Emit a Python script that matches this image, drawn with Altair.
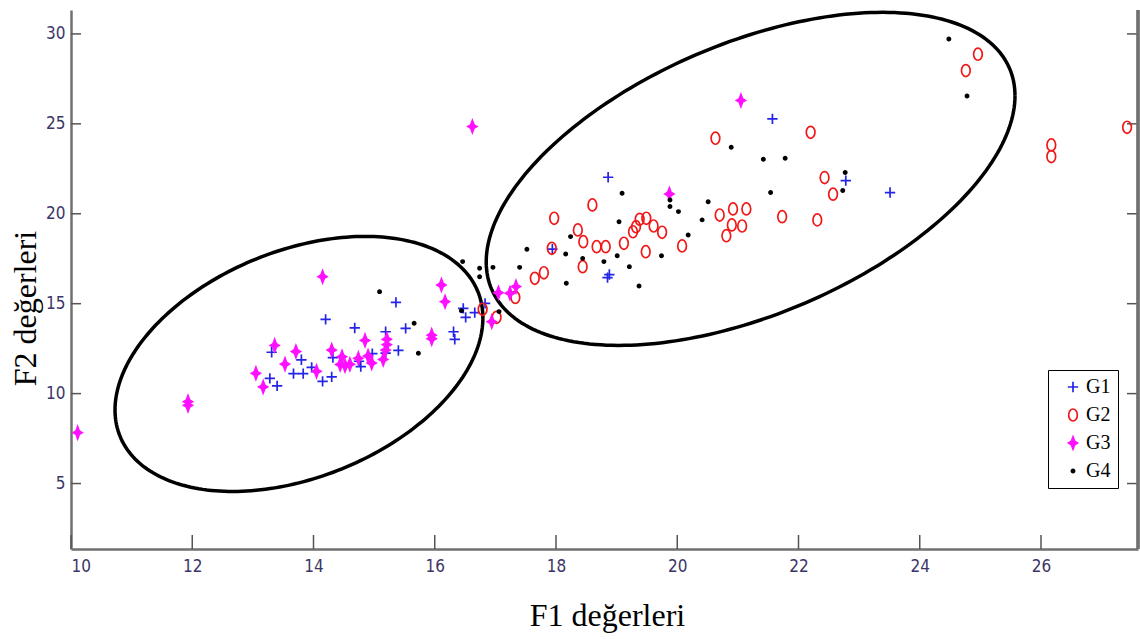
import numpy as np
import pandas as pd
import altair as alt

# ---- measurements per group: F1 (x) and F2 (y) ----
groups = ["G1", "G2", "G3", "G4"]

g1_f1 = [13.31, 13.80, 13.97, 13.67, 13.83, 13.28, 13.40, 14.15, 14.30, 14.20,
         14.68, 14.32, 14.75, 14.78, 14.97, 15.19, 15.19, 15.40, 15.36, 15.52,
         16.31, 16.33, 16.47, 16.51, 16.66, 16.83, 17.94, 18.86, 18.85, 18.88,
         21.57, 22.78, 23.51]
g1_f2 = [12.30, 11.88, 11.46, 11.11, 11.11, 10.85, 10.43, 10.68, 10.93, 14.13,
         13.65, 12.00, 11.80, 11.50, 12.22, 13.44, 12.25, 12.40, 15.07, 13.63,
         13.44, 13.02, 14.74, 14.24, 14.50, 15.02, 18.03, 22.03, 16.45, 16.62,
         25.28, 21.84, 21.18]

g2_f1 = [16.79, 17.02, 17.33, 17.65, 17.80, 17.93, 17.97, 18.36, 18.45, 18.44,
         18.60, 18.67, 18.82, 19.12, 19.27, 19.32, 19.38, 19.49, 19.61, 19.75,
         19.48, 20.08, 20.63, 20.70, 20.92, 21.14, 20.90, 21.07, 20.81, 21.73,
         22.20, 22.43, 22.57, 22.31, 24.76, 24.96, 26.17, 26.17, 27.42]
g2_f2 = [14.69, 14.24, 15.35, 16.41, 16.72, 18.08, 19.75, 19.10, 18.45, 17.06,
         20.49, 18.17, 18.17, 18.36, 19.00, 19.28, 19.69, 19.75, 19.32, 18.97,
         17.89, 18.21, 24.20, 19.93, 20.27, 20.27, 19.38, 19.32, 18.78, 19.84,
         24.53, 22.01, 21.09, 19.66, 27.96, 28.87, 23.83, 23.18, 24.81]

g3_f1 = [10.11, 11.93, 11.93, 13.05, 13.17, 13.36, 13.53, 13.71, 14.05, 14.15,
         14.30, 14.47, 14.44, 14.52, 14.60, 14.74, 14.85, 14.90, 14.96, 15.15,
         15.19, 15.21, 15.21, 15.95, 15.95, 16.11, 16.17, 16.62, 16.94, 17.05,
         17.24, 17.34, 19.87, 21.05]
g3_f2 = [7.83, 9.35, 9.55, 11.13, 10.37, 12.68, 11.64, 12.34, 11.24, 16.50,
         12.42, 12.05, 11.62, 11.55, 11.63, 11.96, 12.96, 12.09, 11.70, 11.90,
         12.42, 12.72, 13.02, 13.05, 13.25, 16.04, 15.11, 24.85, 14.00, 15.61,
         15.58, 15.95, 21.10, 26.30]

g4_f1 = [15.09, 15.66, 15.73, 16.46, 16.44, 16.74, 16.74, 16.96, 17.06, 17.40,
         17.52, 18.16, 18.17, 18.24, 18.44, 18.79, 19.01, 19.04, 19.09, 19.21,
         19.37, 19.74, 19.88, 19.88, 20.02, 20.18, 20.41, 20.51, 20.89, 21.42,
         21.54, 21.78, 22.77, 22.73, 24.48, 24.78]
g4_f2 = [15.67, 13.91, 12.24, 17.34, 14.61, 16.97, 16.50, 17.02, 14.56, 17.02,
         18.03, 17.76, 16.14, 18.73, 17.52, 17.34, 17.67, 19.56, 21.14, 17.06,
         15.98, 17.67, 20.77, 20.40, 20.12, 18.82, 19.66, 20.67, 23.70, 23.03,
         21.18, 23.09, 22.29, 21.29, 29.72, 26.55]

# cluster outlines: centre and 2x2 factor L (outline = centre + L @ [cos t, sin t])
ellipse_center = [[13.76, 11.65], [21.21, 21.94]]
ellipse_factor = [[[3.034, 0.0], [2.558, 6.613]],
                  [[4.361, 0.0], [4.616, 8.027]]]

x_ticks = [10, 12, 14, 16, 18, 20, 22, 24, 26]
y_ticks = [5, 10, 15, 20, 25, 30]

# ---- tables ----
pts = pd.concat([
    pd.DataFrame({"F1": f1, "F2": f2, "grup": g})
    for g, f1, f2 in zip(groups, [g1_f1, g2_f1, g3_f1, g4_f1], [g1_f2, g2_f2, g3_f2, g4_f2])
], ignore_index=True)

t = np.linspace(0, 2 * np.pi, 241)
rings = []
for i, (c, L) in enumerate(zip(ellipse_center, ellipse_factor)):
    L = np.array(L)
    xy = np.array(c)[:, None] + L @ np.vstack([np.cos(t), np.sin(t)])
    rings.append(pd.DataFrame({"F1": xy[0], "F2": xy[1], "ring": i, "k": np.arange(len(t))}))
ell = pd.concat(rings, ignore_index=True)

xt = pd.DataFrame({"F1": x_ticks})
yt = pd.DataFrame({"F2": y_ticks})

# ---- layout ----
W, H = 1067, 539
NUM_FONT = "Liberation Sans Narrow, DejaVu Sans Condensed, Arial Narrow, sans-serif"
SERIF = "Liberation Serif, Times New Roman, serif"
LABEL_COLOR = "#3b3566"
AXIS_GRAY = "#707070"

x_scale = alt.Scale(domain=[10, 27.6], nice=False, zero=False)
y_scale = alt.Scale(domain=[1.36, 31.33], nice=False, zero=False)

x_axis = alt.Axis(values=x_ticks, ticks=False, grid=False, labelPadding=9,
                  labelFont=NUM_FONT, labelFontSize=17, labelColor=LABEL_COLOR,
                  domainColor=AXIS_GRAY, domainWidth=2.5,
                  titleFont=SERIF, titleFontSize=32, titleFontWeight="normal",
                  titleColor="black", titleX=536, titleY=76,
                  titleBaseline="alphabetic", titleAlign="center")
y_axis = alt.Axis(values=y_ticks, ticks=False, grid=False, labelPadding=6,
                  labelFont=NUM_FONT, labelFontSize=17, labelColor=LABEL_COLOR,
                  domainColor=AXIS_GRAY, domainWidth=2.5,
                  titleFont=SERIF, titleFontSize=32, titleFontWeight="normal",
                  titleColor="black", titleX=-36, titleY=298, titleAngle=270,
                  titleBaseline="alphabetic", titleAlign="center")


def X():
    return alt.X("F1:Q", scale=x_scale, axis=x_axis, title="F1 değerleri")


def Y():
    return alt.Y("F2:Q", scale=y_scale, axis=y_axis, title="F2 değerleri")


# marker shapes, all drawn in the same unit box (one common symbol size)
plus = "M-0.74,0L0.74,0M0,-0.74L0,0.74"
oval = ("M0,-0.86C0.34,-0.86,0.62,-0.47,0.62,0C0.62,0.47,0.34,0.86,0,0.86"
        "C-0.34,0.86,-0.62,0.47,-0.62,0C-0.62,-0.47,-0.34,-0.86,0,-0.86Z")
star = "M0,-0.88L0.24,-0.24L0.64,0L0.24,0.24L0,0.88L-0.24,0.24L-0.64,0L-0.24,-0.24Z"
dot = ("M0,-0.23C0.127,-0.23,0.23,-0.127,0.23,0C0.23,0.127,0.127,0.23,0,0.23"
       "C-0.127,0.23,-0.23,0.127,-0.23,0C-0.23,-0.127,-0.127,-0.23,0,-0.23Z")

stroke_cols = ["#2424e8", "#f01818", "#ff10ff", "#000000"]
fill_cols = ["transparent", "transparent", "#ff10ff", "#000000"]

outline = alt.Chart(ell).mark_line(color="black", strokeWidth=3.5).encode(
    x=X(), y=Y(), detail="ring:N", order="k:Q"
)

points = alt.Chart(pts).mark_point(filled=False, strokeWidth=1.7, opacity=1, size=196).encode(
    x=X(), y=Y(),
    shape=alt.Shape("grup:N", scale=alt.Scale(domain=groups, range=[plus, oval, star, dot]), title=None),
    stroke=alt.Stroke("grup:N", scale=alt.Scale(domain=groups, range=stroke_cols), title=None),
    fill=alt.Fill("grup:N", scale=alt.Scale(domain=groups, range=fill_cols), title=None),
)

tick_style = dict(color="#555555", strokeWidth=1.5)
left_ticks = alt.Chart(yt).mark_rule(**tick_style).encode(y=Y(), x=alt.value(0), x2=alt.value(10))
right_ticks = alt.Chart(yt).mark_rule(**tick_style).encode(y=Y(), x=alt.value(W - 11), x2=alt.value(W))
bottom_ticks = alt.Chart(xt).mark_rule(**tick_style).encode(x=X(), y=alt.value(H - 14), y2=alt.value(H))
right_edge = alt.Chart(yt).mark_rule(color=AXIS_GRAY, strokeWidth=2.5).encode(
    x=alt.value(W), y=alt.value(0), y2=alt.value(H)
)

chart = alt.layer(
    outline, left_ticks, right_ticks, bottom_ticks, right_edge, points
).properties(
    width=W, height=H,
    autosize=alt.AutoSizeParams(type="none"),
    padding={"left": 71, "top": 10, "right": 2, "bottom": 90},
    background="white",
).configure_view(
    strokeWidth=0
).configure_legend(
    orient="none", legendX=977, legendY=360,
    strokeColor="black", fillColor="white", padding=7,
    labelFont=SERIF, labelFontSize=20, labelColor="black",
    symbolSize=196, symbolOffset=8, labelOffset=3, rowPadding=8,
    symbolStrokeWidth=1.7,
)

chart.save("out.html", embed_options={"renderer": "svg", "actions": False})
